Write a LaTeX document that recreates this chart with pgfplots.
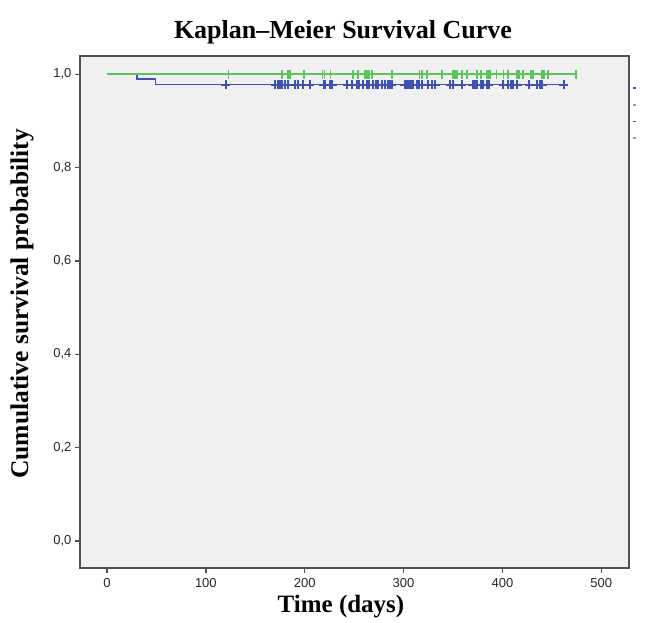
\documentclass[border=0pt]{standalone}
\usepackage{pgfplots}
\pgfplotsset{compat=1.18}
\usepackage{fontspec}
\setmainfont{Liberation Serif}
\setsansfont{Liberation Sans}
\definecolor{kmgreen}{RGB}{92,196,92}
\definecolor{kmblue}{RGB}{62,82,178}
\definecolor{axgray}{RGB}{80,80,80}
\definecolor{bggray}{RGB}{240,240,240}
\begin{document}
\begin{tikzpicture}
\useasboundingbox (-80pt,-54pt) rectangle (578pt,568pt);
\begin{axis}[
  at={(0pt,0pt)}, anchor=south west,
  scale only axis, width=549pt, height=512pt,
  xmin=-27.3, xmax=528, ymin=-0.058, ymax=1.039,
  axis background/.style={fill=bggray},
  axis line style={axgray, line width=1.8pt},
  tick style={axgray, line width=1.4pt},
  tick align=outside, major tick length=5pt, tick pos=left,
  xtick={0,100,200,300,400,500},
  ytick={0,0.2,0.4,0.6,0.8,1.0},
  yticklabel style={/pgf/number format/.cd, fixed, fixed zerofill, precision=1, use comma},
  /pgf/number format/assume math mode=true,
  tick label style={font=\fontsize{13}{13}\sffamily, text=black!85},
  xticklabel style={yshift=-2pt},
  legend style={at={(1.004,0.949)}, anchor=north west, draw=none, fill=white,
    font=\fontsize{9}{9}\selectfont, inner sep=1pt, row sep=7pt},
  legend cell align=left,
]
\addlegendimage{kmblue, legend image code/.code={\draw[kmblue,line width=1.6pt] (0pt,0pt) -- (3pt,0pt);}}
\addlegendentry{\phantom{xxx}}
\addlegendimage{kmgreen, legend image code/.code={\draw[kmgreen,line width=1.6pt] (0pt,0pt) -- (3pt,0pt);}}
\addlegendentry{\phantom{xxx}}
\addlegendimage{kmblue, legend image code/.code={\draw[kmblue,line width=1.6pt] (0pt,0pt) -- (3pt,0pt);}}
\addlegendentry{\phantom{xxx}}
\addlegendimage{kmgreen, legend image code/.code={\draw[kmgreen,line width=1.6pt] (0pt,0pt) -- (3pt,0pt);}}
\addlegendentry{\phantom{xxx}}
% survival curves
\addplot[kmblue, line width=1.8pt, const plot, forget plot] coordinates {(0,1) (30,0.9889) (49,0.9778) (462,0.9778)};
\addplot[kmgreen, line width=2pt, const plot, forget plot] coordinates {(0,1) (474,1)};
% censor marks
\addplot[only marks, mark=|, mark size=4.5pt, kmgreen, mark options={line width=1.8pt}, forget plot] table[y expr=1] {
x
123
177
183
185
199
218
220
226
249
254
261
263
265
268
288
316
319
324
339
350
352
354
359
364
374
378
384
386
387
394
401
406
415
417
421
429
431
440
442
446
474
};
\addplot[only marks, mark=+, mark size=4.5pt, kmblue, mark options={line width=2pt}, forget plot] table[y expr=0.9778] {
x
120
170
173
175
177
180
183
190
193
198
205
219
221
226
228
243
248
253
255
259
263
265
269
272
274
278
281
284
286
288
301
303
305
307
310
314
316
319
325
329
332
347
350
359
370
372
374
378
380
384
386
401
406
409
411
415
427
435
438
440
462
};
\end{axis}
\node[anchor=base] at (263pt,529pt) {\fontsize{26}{26}\selectfont\bfseries Kaplan--Meier Survival Curve};
\node[anchor=center] at (261pt,-39pt) {\fontsize{25}{25}\selectfont\bfseries Time (days)};
\node[anchor=center, rotate=90] at (-58pt,264pt) {\fontsize{25.5}{25.5}\selectfont\bfseries Cumulative survival probability};
\end{tikzpicture}
\end{document}
